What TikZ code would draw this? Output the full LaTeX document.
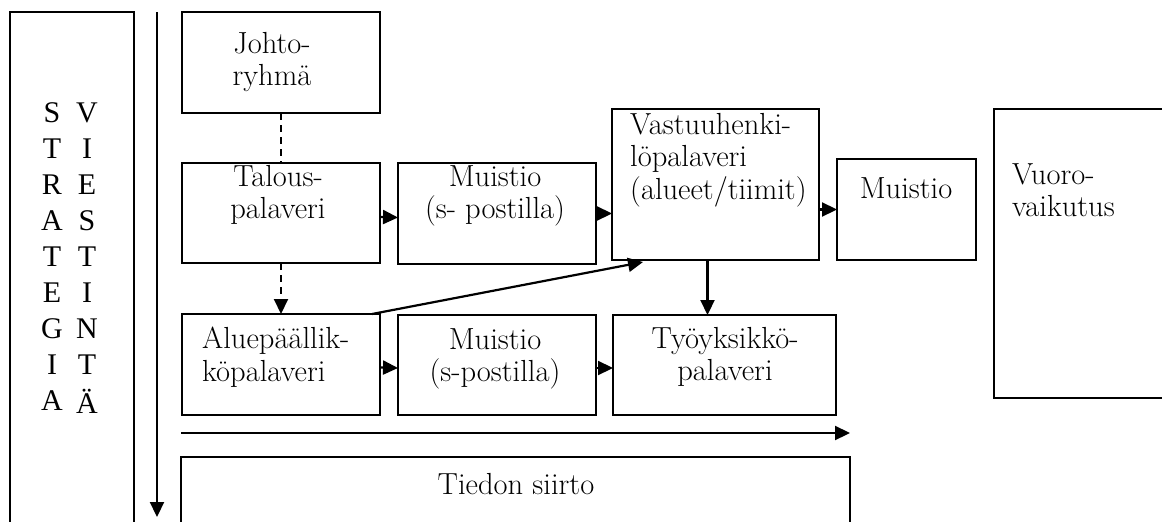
\documentclass[tikz,border=0pt]{standalone}
\usepackage{fontspec}
\newfontfamily\colfont{Liberation Serif}
\usetikzlibrary{arrows.meta}
\begin{document}
\begin{tikzpicture}[x=1pt,y=-1pt,
  box/.style={draw,line width=2pt,inner sep=0pt,outer sep=0pt},
  txt/.style={inner sep=0pt,font=\fontsize{30.5}{32.5}\selectfont},
  colletter/.style={inner sep=0pt,font=\colfont\fontsize{30}{30}\selectfont},
  tip/.style={-{Triangle[length=15pt,width=14pt]}},
  link/.style={line width=2.2pt,tip},
  dashlink/.style={line width=2pt,dash pattern=on 7pt off 5pt}]
\useasboundingbox (0,0) rectangle (1162,522);

% boxes
\node[box,minimum width=124pt,minimum height=548pt] (strat) at (72,286) {};
\node[box,minimum width=198pt,minimum height=101pt] (johto) at (281,62.5) {};
\node[box,minimum width=198pt,minimum height=100pt] (talous) at (281,213) {};
\node[box,minimum width=198pt,minimum height=101pt] (muistioA) at (497,213.5) {};
\node[box,minimum width=207pt,minimum height=151pt] (vastuu) at (715.5,184.5) {};
\node[box,minimum width=139pt,minimum height=101pt] (muistioB) at (906.5,209.5) {};
\node[box,minimum width=206pt,minimum height=289pt] (vuoro) at (1097,253.5) {};
\node[box,minimum width=198pt,minimum height=101pt] (alue) at (281,364.5) {};
\node[box,minimum width=198pt,minimum height=100pt] (muistioC) at (497,365) {};
\node[box,minimum width=223pt,minimum height=100pt] (tyo) at (724.5,365) {};
\node[box,minimum width=669pt,minimum height=103pt] (tiedon) at (515.5,508.5) {};

% texts
\node[txt,align=center] (tJohto) at (272,62) {Johto-\\ryhmä};
\node[txt,align=center] (tTalous) at (278,195) {Talous-\\palaveri};
\node[txt,align=center] (tMuistioA) at (495,196) {Muistio\\(s- postilla)};
\node[txt,align=left,anchor=west] (tVastuu) at (630,160) {Vastuuhenki-\\löpalaveri\\(alueet/tiimit)};
\node[txt] (tMuistioB) at (906,188) {Muistio};
\node[txt,align=left,anchor=west] (tVuoro) at (1012,190) {Vuoro-\\vaikutus};
\node[txt,align=left,anchor=west] (tAlue) at (202,357) {Aluepäällik-\\köpalaveri};
\node[txt,align=center] (tMuistioC) at (495,359) {Muistio\\(s-postilla)};
\node[txt,align=center] (tTyo) at (725,357) {Työyksikkö-\\palaveri};
\node[txt] (tTiedon) at (516,484) {Tiedon siirto};

% vertical letter columns
\foreach \ch [count=\i from 0] in {S,T,R,A,T,E,G,I,A}
  \node[colletter] (s\i) at (52,113+36*\i) {\ch};
\foreach \ch [count=\i from 0] in {V,I,E,S,T,I,N,T,Ä}
  \node[colletter] (v\i) at (87,113+36*\i) {\ch};

% long arrows
\coordinate (vtop) at (157,12);
\coordinate (vbot) at (157,517);
\coordinate (hleft) at (181,433);
\coordinate (hright) at (850,433);
\draw[link] (vtop) -- (vbot);
\draw[link] (hleft) -- (hright);

% connectors
\draw[dashlink] (johto.south) -- (talous.north);
\draw[dashlink,tip] (talous.south) -- (alue.north);
\draw[link] ([yshift=-4pt]talous.east) -- ([yshift=-4pt]muistioA.west);
\draw[link] (muistioA.east) -- (vastuu.west |- muistioA.east);
\draw[link] (vastuu.east |- muistioB.west) -- (muistioB.west);
\draw[link] ([xshift=-8pt]vastuu.south) -- ([xshift=-8pt]vastuu.south |- tyo.north);
\draw[link] ([xshift=-8pt]alue.north east) -- ([xshift=31pt,yshift=-2pt]vastuu.south west);
\draw[link] ([yshift=-3pt]alue.east) -- ([yshift=-3pt]muistioC.west);
\draw[link] ([yshift=-3pt]muistioC.east) -- ([yshift=-3pt]tyo.west);
\end{tikzpicture}
\end{document}
